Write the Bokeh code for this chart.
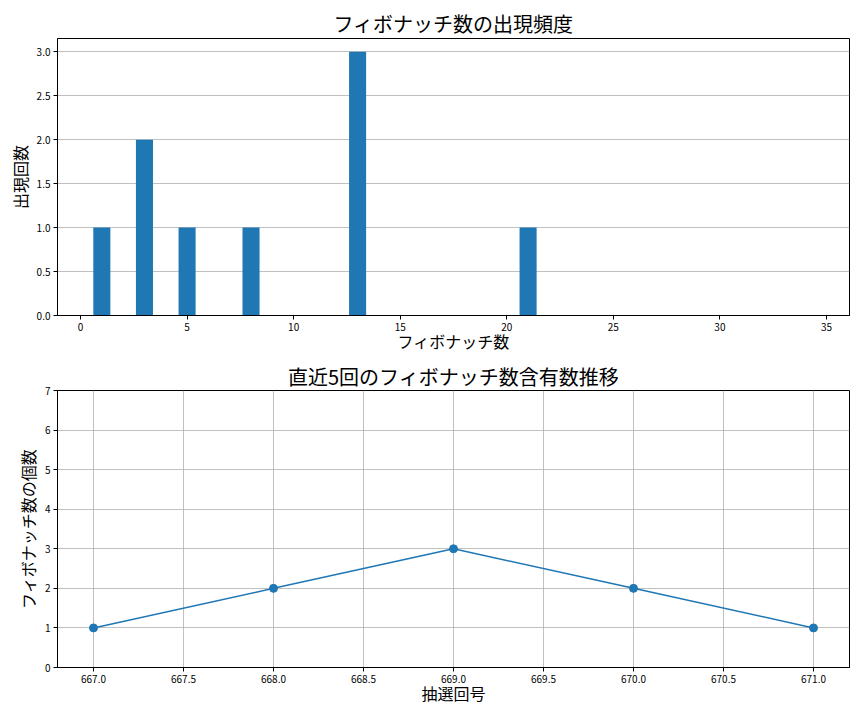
from bokeh.plotting import figure
from bokeh.layouts import column
from bokeh.models import FixedTicker, PrintfTickFormatter, Range1d
from bokeh.embed import file_html
from bokeh.resources import INLINE

# Data
fib_numbers = [1, 3, 5, 8, 13, 21]
fib_freq = [1, 2, 1, 1, 3, 1]
draw_ids = [667, 668, 669, 670, 671]
fib_counts = [1, 2, 3, 2, 1]

x1_ticks = [0, 5, 10, 15, 20, 25, 30, 35]
y1_ticks = [0.0, 0.5, 1.0, 1.5, 2.0, 2.5, 3.0]
x2_ticks = [667.0, 667.5, 668.0, 668.5, 669.0, 669.5, 670.0, 670.5, 671.0]
y2_ticks = [0, 1, 2, 3, 4, 5, 6, 7]

FONT = "Noto Sans CJK JP"
BLUE = "#1f77b4"
GRID = "#b0b0b0"


def style(p, xlabel, ylabel, title_standoff):
    p.title.text_font = FONT
    p.title.text_font_size = "20px"
    p.title.text_font_style = "normal"
    p.title.align = "center"
    p.title.text_color = "black"
    p.title.standoff = title_standoff
    p.outline_line_color = "black"
    p.outline_line_width = 1
    p.outline_line_alpha = 1
    for ax, lab in ((p.xaxis, xlabel), (p.yaxis, ylabel)):
        ax.axis_label = lab
        ax.axis_label_text_font = FONT
        ax.axis_label_text_font_size = "16px"
        ax.axis_label_text_font_style = "normal"
        ax.axis_label_text_color = "black"
        ax.major_label_text_font = FONT
        ax.major_label_text_font_size = "10px"
        ax.major_label_text_color = "black"
        ax.axis_line_color = "black"
        ax.major_tick_line_color = "black"
        ax.major_tick_out = 4
        ax.major_tick_in = 0
        ax.minor_tick_line_color = None
        ax.major_label_standoff = 3
    p.xaxis.axis_label_standoff = -5
    p.yaxis.axis_label_standoff = 2


def make_fig(title, xr, yr, top, bottom):
    return figure(
        title=title, frame_width=792, frame_height=277,
        min_border_left=57, min_border_right=15, min_border_top=top, min_border_bottom=bottom,
        x_range=xr, y_range=yr,
        output_backend="svg", toolbar_location=None,
    )


p1 = make_fig("フィボナッチ数の出現頻度", Range1d(-1.08, 36.08), Range1d(0, 3.15), 38, 44)
p1.vbar(x=fib_numbers, top=fib_freq, width=0.8, color=BLUE, line_color=None)
style(p1, "フィボナッチ数", "出現回数", 2)
p1.xaxis.ticker = FixedTicker(ticks=x1_ticks)
p1.yaxis.ticker = FixedTicker(ticks=y1_ticks)
p1.yaxis.formatter = PrintfTickFormatter(format="%.1f")
p1.xgrid.grid_line_color = None
p1.ygrid.grid_line_color = GRID
p1.ygrid.grid_line_width = 0.8

p2 = make_fig("直近5回のフィボナッチ数含有数推移", Range1d(666.8, 671.2), Range1d(0, 7), 30, 45)
p2.line(draw_ids, fib_counts, line_color=BLUE, line_width=1.5)
p2.scatter(draw_ids, fib_counts, size=8, color=BLUE)
style(p2, "抽選回号", "フィボナッチ数の個数", 0)
p2.xaxis.ticker = FixedTicker(ticks=x2_ticks)
p2.xaxis.formatter = PrintfTickFormatter(format="%.1f")
p2.yaxis.ticker = FixedTicker(ticks=y2_ticks)
for g in (p2.xgrid, p2.ygrid):
    g.grid_line_color = GRID
    g.grid_line_width = 0.8

layout = column(p1, p2, spacing=0)
open("out.html", "w").write(file_html(layout, INLINE))
